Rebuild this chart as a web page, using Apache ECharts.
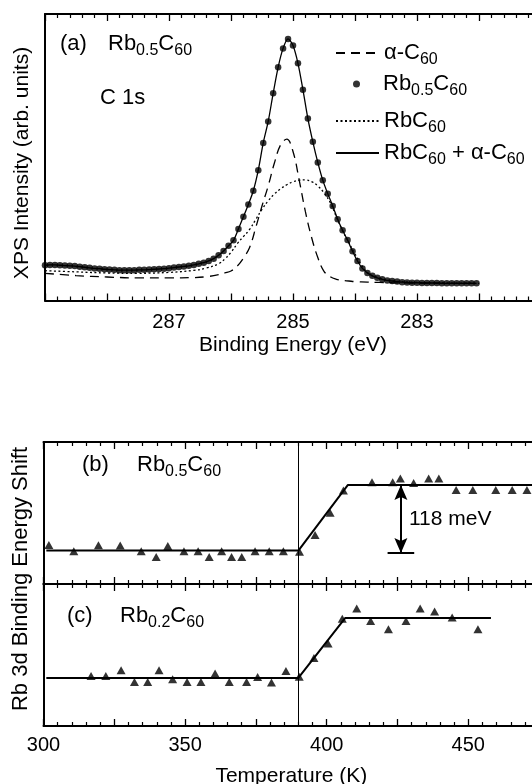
<!DOCTYPE html>
<html>
<head>
<meta charset="utf-8">
<script src="https://cdn.jsdelivr.net/npm/echarts@6/dist/echarts.min.js"></script>
<style>
html, body { margin: 0; padding: 0; background: #fff; }
#chart { width: 532px; height: 784px; }
</style>
</head>
<body>
<div id="chart"></div>
<script>
// (a) C 1s spectrum, Rb0.5C60 data points
var xpsEnergy = [289.00, 288.92, 288.84, 288.76, 288.68, 288.60, 288.52, 288.44, 288.36, 288.28,
    288.20, 288.12, 288.04, 287.96, 287.88, 287.80, 287.72, 287.64, 287.56, 287.48,
    287.40, 287.32, 287.24, 287.16, 287.08, 287.00, 286.92, 286.84, 286.76, 286.68,
    286.60, 286.52, 286.44, 286.36, 286.28, 286.20, 286.12, 286.04, 285.96, 285.88,
    285.80, 285.72, 285.64, 285.56, 285.48, 285.40, 285.32, 285.24, 285.16, 285.08,
    285.00, 284.92, 284.84, 284.76, 284.68, 284.60, 284.52, 284.44, 284.36, 284.28,
    284.20, 284.12, 284.04, 283.96, 283.88, 283.80, 283.72, 283.64, 283.56, 283.48,
    283.40, 283.32, 283.24, 283.16, 283.08, 283.00, 282.92, 282.84, 282.76, 282.68,
    282.60, 282.52, 282.44, 282.36, 282.28, 282.20, 282.12, 282.04];
var rb05Intensity = [12.3, 12.4, 12.4, 12.3, 12.2, 12.1, 12.0, 11.8, 11.6, 11.4,
    11.2, 11.1, 10.9, 10.8, 10.7, 10.6, 10.6, 10.6, 10.6, 10.7,
    10.7, 10.8, 10.9, 11.0, 11.1, 11.3, 11.5, 11.7, 11.9, 12.1,
    12.4, 12.8, 13.2, 13.8, 14.6, 15.8, 17.3, 19.1, 21.0, 25.0,
    29.2, 33.5, 38.3, 45.5, 55.0, 62.5, 72.3, 81.4, 88.0, 91.3,
    89.0, 82.8, 73.6, 63.5, 55.4, 48.2, 42.0, 37.3, 33.0, 28.4,
    24.5, 21.1, 17.2, 13.8, 11.2, 9.6, 8.6, 7.9, 7.4, 7.0,
    6.8, 6.6, 6.4, 6.3, 6.2, 6.2, 6.1, 6.1, 6.1, 6.1,
    6.0, 6.0, 6.0, 6.0, 6.0, 6.0, 6.0, 6.0];

// fit components
var compEnergy = [289.0, 288.5, 288.0, 287.5, 287.0, 286.6, 286.4, 286.2, 286.1, 286.0,
    285.9, 285.8, 285.7, 285.6, 285.5, 285.4, 285.3, 285.2, 285.1, 285.0,
    284.9, 284.8, 284.7, 284.6, 284.5, 284.4, 284.3, 284.2, 284.1, 284.0,
    283.8, 283.6, 283.4, 283.0, 282.5, 282.0];
var alphaC60 = [9.5, 8.7, 8.2, 7.9, 7.9, 8.0, 8.3, 9.0, 9.6, 10.3,
    12.0, 14.8, 18.5, 25.5, 33.0, 40.0, 48.0, 54.3, 56.3, 52.0,
    42.0, 31.0, 22.0, 15.0, 10.2, 8.3, 7.4, 7.0, 6.8, 6.6,
    6.4, 6.3, 6.2, 6.1, 6.0, 6.0];
var rbC60 = [10.4, 10.0, 9.6, 9.5, 9.8, 10.5, 11.3, 12.8, 14.5, 16.8,
    19.8, 22.3, 24.8, 28.3, 31.8, 34.8, 37.2, 39.0, 40.4, 41.4,
    42.0, 42.1, 41.5, 40.0, 37.6, 34.2, 29.2, 24.3, 20.3, 16.2,
    9.8, 7.8, 6.9, 6.3, 6.1, 6.0];

// (b) Rb0.5C60 shift (meV) vs temperature (K)
var tempB = [301.9, 310.7, 319.4, 327.1, 334.5, 339.8, 343.9, 349.6, 354.6, 358.5,
    362.9, 366.4, 370.0, 374.7, 379.7, 384.7, 390.4, 395.9, 401.2, 405.9,
    416.0, 423.3, 426.0, 430.7, 436.0, 439.6, 445.7, 451.6, 459.7, 465.5, 470.7];
var shiftB = [10, -1, 9.5, 9, -1, -11.4, 8.2, -1, -1, -11.4,
    -1, -11.4, -11.4, -1, -1, -1, -2, 28, 68, 108,
    122.5, 122.5, 129.6, 121.4, 129.6, 129.6, 109, 109, 109, 109, 109];
var fitTempB = [301, 390, 407.5, 475];
var fitShiftB = [0, 0, 118, 118];

// (c) Rb0.2C60
var tempC = [316.8, 322.0, 327.4, 332.1, 336.8, 340.8, 345.6, 350.7, 355.6, 360.6,
    365.6, 371.7, 375.6, 380.5, 385.6, 390.3, 395.5, 400.5, 405.5, 410.6,
    415.5, 421.8, 428.0, 433.0, 438.1, 444.3, 453.4];
var shiftC = [3.6, 3.6, 13.8, -7.1, -7.1, 13.8, -2.3, -7.1, -7.1, 7.9,
    -7.1, -7.1, 1.8, -8, 12.5, 2, 35.7, 61.4, 106, 124,
    101.8, 87, 101.8, 124, 119, 107.9, 87];
var fitTempC = [301, 390, 406.5, 458];
var fitShiftC = [0, 0, 107, 107];

// 118 meV arrow annotation
var transitionT = 390;
var arrowT = 426.2;
var shiftValue = 118;
var arrowBase = -4.3;
var barT = [421.5, 430.9];

var FONT = '"Liberation Sans", Arial, Helvetica, sans-serif';
var ARROW_UP = 'path://M6.5,0 L13,15 L6.5,12 L0,15 Z';
var ARROW_DOWN = 'path://M0,0 L6.5,3 L13,0 L6.5,15 Z';

function pairs(xs, ys) {
    return xs.map(function (x, i) { return [x, ys[i]]; });
}

var richText = {
    m: { fontSize: 22, fontFamily: FONT, color: '#000', lineHeight: 30 },
    s: { fontSize: 16, fontFamily: FONT, color: '#000', lineHeight: 17, verticalAlign: 'bottom' }
};

var legendLabels = {
    'α-C60': '{m|α-C}{s|60}',
    'Rb0.5C60': '{m|Rb}{s|0.5}{m|C}{s|60}',
    'RbC60': '{m|RbC}{s|60}',
    'RbC60 + α-C60': '{m|RbC}{s|60}{m| + α-C}{s|60}'
};
var legendNames = ['α-C60', 'Rb0.5C60', 'RbC60', 'RbC60 + α-C60'];
var legendTops = [37, 68, 105, 137];
var legendLefts = [330, 348, 330, 330];

function energyAxis(position, withLabel) {
    return {
        type: 'value', gridIndex: 0, position: position, inverse: true,
        min: 281, max: 289, interval: 1,
        name: withLabel ? 'Binding Energy (eV)' : '',
        nameLocation: 'middle', nameGap: 34,
        nameTextStyle: { fontSize: 21, fontFamily: FONT, color: '#000' },
        axisLine: { show: true, onZero: false, lineStyle: { color: '#000', width: 2 } },
        axisTick: { show: true, inside: true, length: 7, lineStyle: { color: '#000', width: 1.3 } },
        minorTick: { show: true, splitNumber: 5, length: 4, lineStyle: { color: '#000', width: 1.2 } },
        axisLabel: {
            show: withLabel, margin: 12, fontSize: 20, fontFamily: FONT, color: '#000',
            formatter: function (v) { return (v === 287 || v === 285 || v === 283) ? String(v) : ''; }
        },
        splitLine: { show: false }
    };
}

function tempAxis(gridIndex, position, withLabel) {
    return {
        type: 'value', gridIndex: gridIndex, position: position,
        min: 300, max: 475, interval: 25,
        name: withLabel ? 'Temperature (K)' : '',
        nameLocation: 'middle', nameGap: 40,
        nameTextStyle: { fontSize: 21, fontFamily: FONT, color: '#000' },
        axisLine: { show: true, onZero: false, lineStyle: { color: '#000', width: 2 } },
        axisTick: { show: true, inside: true, length: 7, lineStyle: { color: '#000', width: 1.3 } },
        minorTick: { show: true, splitNumber: 5, length: 4, lineStyle: { color: '#000', width: 1.2 } },
        axisLabel: {
            show: withLabel, margin: 9, fontSize: 20, fontFamily: FONT, color: '#000',
            formatter: function (v) { return v % 50 === 0 ? String(v) : ''; }
        },
        splitLine: { show: false }
    };
}

function plainY(gridIndex, min, max) {
    return {
        type: 'value', gridIndex: gridIndex, position: 'left', min: min, max: max,
        axisLine: { show: true, onZero: false, lineStyle: { color: '#000', width: 2 } },
        axisTick: { show: false }, axisLabel: { show: false }, splitLine: { show: false }
    };
}

var legends = legendNames.map(function (name, i) {
    var item = { name: name };
    if (name !== 'Rb0.5C60') {
        item.itemStyle = { opacity: 0 };
    }
    return {
        orient: 'vertical', left: legendLefts[i], top: legendTops[i],
        itemWidth: 43, itemHeight: 7,
        data: [item],
        formatter: function (n) { return legendLabels[n]; },
        textStyle: { rich: richText },
        selectedMode: false
    };
});

var chart = echarts.init(document.getElementById('chart'));

var option = {
    backgroundColor: '#fff',
    animation: false,
    grid: [
        { left: 45, top: 14, width: 496, height: 286.5, outerBoundsMode: 'none' },
        { left: 43.5, top: 442, width: 495.6, height: 142, outerBoundsMode: 'none' },
        { left: 43.5, top: 584, width: 495.6, height: 142, outerBoundsMode: 'none' }
    ],
    xAxis: [
        energyAxis('bottom', true),
        energyAxis('top', false),
        tempAxis(1, 'bottom', false),
        tempAxis(1, 'top', false),
        tempAxis(2, 'bottom', true),
        tempAxis(2, 'top', false)
    ],
    yAxis: [
        plainY(0, 0, 100),
        plainY(1, -60, 195),
        plainY(2, -86, 168)
    ],
    legend: legends,
    graphic: [
        { type: 'text', left: 60, top: 33, style: { text: '(a)', font: '22px ' + FONT, fill: '#000' } },
        { type: 'text', x: 108, y: 44, style: { text: '{m|Rb}{s|0.5}{m|C}{s|60}', rich: richText, verticalAlign: 'middle' } },
        { type: 'text', left: 100, top: 87, style: { text: 'C 1s', font: '22px ' + FONT, fill: '#000' } },
        { type: 'text', left: 82, top: 454, style: { text: '(b)', font: '22px ' + FONT, fill: '#000' } },
        { type: 'text', x: 137, y: 465, style: { text: '{m|Rb}{s|0.5}{m|C}{s|60}', rich: richText, verticalAlign: 'middle' } },
        { type: 'text', left: 67, top: 605, style: { text: '(c)', font: '22px ' + FONT, fill: '#000' } },
        { type: 'text', x: 120, y: 616, style: { text: '{m|Rb}{s|0.2}{m|C}{s|60}', rich: richText, verticalAlign: 'middle' } },
        { type: 'text', left: 409, top: 509, style: { text: '118 meV', font: '21px ' + FONT, fill: '#000' } },
        {
            type: 'text', x: 22, y: 163, rotation: Math.PI / 2,
            style: { text: 'XPS Intensity (arb. units)', font: '21px ' + FONT, fill: '#000', align: 'center', verticalAlign: 'middle' }
        },
        {
            type: 'text', x: 21, y: 579, rotation: Math.PI / 2,
            style: { text: 'Rb 3d Binding Energy Shift', font: '22px ' + FONT, fill: '#000', align: 'center', verticalAlign: 'middle' }
        }
    ],
    series: [
        {
            name: 'RbC60 + α-C60', type: 'line', xAxisIndex: 0, yAxisIndex: 0,
            data: pairs(xpsEnergy, rb05Intensity), smooth: 0.3, symbol: 'none',
            lineStyle: { color: '#000', width: 1.3, type: 'solid' }, itemStyle: { color: '#000' }, z: 3
        },
        {
            name: 'α-C60', type: 'line', xAxisIndex: 0, yAxisIndex: 0,
            data: pairs(compEnergy, alphaC60), smooth: 0.4, symbol: 'none',
            lineStyle: { color: '#000', width: 1.3, type: [9, 6] }, itemStyle: { color: '#000' }, z: 2
        },
        {
            name: 'Rb0.5C60', type: 'scatter', xAxisIndex: 0, yAxisIndex: 0,
            data: pairs(xpsEnergy, rb05Intensity), symbol: 'circle', symbolSize: 6.5,
            itemStyle: { color: '#000' }, z: 4
        },
        {
            name: 'RbC60', type: 'line', xAxisIndex: 0, yAxisIndex: 0,
            data: pairs(compEnergy, rbC60), smooth: 0.4, symbol: 'none',
            lineStyle: { color: '#000', width: 1.3, type: [2, 2.5] }, itemStyle: { color: '#000' }, z: 2
        },
        {
            type: 'line', xAxisIndex: 2, yAxisIndex: 1,
            data: pairs(fitTempB, fitShiftB), symbol: 'none',
            lineStyle: { color: '#000', width: 2 },
            markLine: {
                silent: true, symbol: 'none', label: { show: false },
                lineStyle: { color: '#000', width: 1, type: 'solid' },
                data: [
                    { xAxis: transitionT },
                    [{ coord: [barT[0], arrowBase] }, { coord: [barT[1], arrowBase], lineStyle: { width: 2 } }],
                    [{ coord: [arrowT, shiftValue] }, { coord: [arrowT, arrowBase], lineStyle: { width: 2 } }]
                ]
            }
        },
        {
            type: 'scatter', xAxisIndex: 2, yAxisIndex: 1,
            data: pairs(tempB, shiftB), symbol: 'triangle', symbolSize: [9, 8],
            itemStyle: { color: '#000' },
            markPoint: {
                silent: true, label: { show: false }, itemStyle: { color: '#000' },
                data: [
                    { coord: [arrowT, shiftValue], symbol: ARROW_UP, symbolSize: [13, 15], symbolOffset: [0, 7.5] },
                    { coord: [arrowT, arrowBase], symbol: ARROW_DOWN, symbolSize: [13, 15], symbolOffset: [0, -7.5] }
                ]
            }
        },
        {
            type: 'line', xAxisIndex: 4, yAxisIndex: 2,
            data: pairs(fitTempC, fitShiftC), symbol: 'none',
            lineStyle: { color: '#000', width: 2 },
            markLine: {
                silent: true, symbol: 'none', label: { show: false },
                lineStyle: { color: '#000', width: 1, type: 'solid' },
                data: [{ xAxis: transitionT }]
            }
        },
        {
            type: 'scatter', xAxisIndex: 4, yAxisIndex: 2,
            data: pairs(tempC, shiftC), symbol: 'triangle', symbolSize: [9, 8],
            itemStyle: { color: '#000' }
        }
    ]
};

chart.setOption(option);
</script>
</body>
</html>
